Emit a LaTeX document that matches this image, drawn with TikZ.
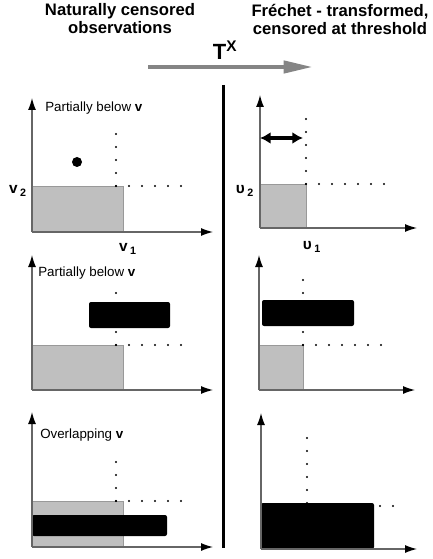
\documentclass[tikz,border=0pt]{standalone}
\usepackage{fontspec}
\setmainfont{Liberation Sans}
\usetikzlibrary{arrows.meta}

\begin{document}
\begin{tikzpicture}[x=0.75pt,y=-0.75pt,
        axis/.style={draw=black!60, line width=0.9pt, -{Latex[length=9pt,width=6pt,color=black]}},
        lowbox/.style={fill=black!25, draw=black!40, line width=0.6pt},
        obsbox/.style={fill=black, rounded corners=1.5pt},
        cut/.style={line width=1.8pt, line cap=round, dash pattern=on 0pt off 9.75pt},
        hdr/.style={font=\fontsize{12.5}{13.5}\selectfont\bfseries, align=center},
        ttl/.style={font=\fontsize{10}{12}\selectfont, anchor=west, inner sep=0pt},
        lbl/.style={font=\fontsize{11.5}{13}\selectfont\bfseries, inner sep=0pt}]
        \useasboundingbox (0,0) rectangle (432,559);

        \node(h1) at (120,19) [hdr]{Naturally censored\\observations};
        \node(h2) at (340,19) [hdr]{Fréchet - transformed,\\censored at threshold};
        \node(tx) at (225,50) [font=\fontsize{16.5}{18}\selectfont\bfseries]{T\textsuperscript{X}};
        \coordinate(ts) at (148,67);
        \coordinate(te) at (313,67);
        \draw[line width=3.2pt, black!48, -{Triangle[length=22pt,width=9pt]}] (ts) -- (te);
        \draw[line width=2.25pt] (223,85) -- (223,548);

        \draw[lowbox] (32,186) rectangle (123,232);
        \draw[cut] (116,186) -- (116,128);
        \draw[cut] (116,186) -- (193,186);
        \fill (77,162) circle (3.75pt);
        \draw[axis] (32,232) -- (32,98);
        \draw[axis] (32,232) -- (213,232);
        \node(c1) at (45,108) [ttl]{Partially below \textbf{v}};
        \node(v2) at (18,191) [lbl]{v\,\textsubscript{2}};
        \node(v1) at (128,249) [lbl]{v\,\textsubscript{1}};

        \draw[lowbox] (260,184) rectangle (306,228);
        \draw[cut] (306,184) -- (306,114);
        \draw[cut] (306,184) -- (394,184);
        \draw[axis] (260,228) -- (260,95);
        \draw[axis] (260,228) -- (417,228);
        \coordinate(w0) at (260,138);
        \coordinate(w1) at (303,138);
        \draw[line width=2.6pt, {Latex[length=8pt,width=9pt]}-{Latex[length=8pt,width=9pt]}] (w0) -- (w1);
        \node(u2) at (245,191) [lbl]{υ\,\textsubscript{2}};
        \node(u1) at (312,247) [lbl]{υ\,\textsubscript{1}};

        \draw[lowbox] (32,345) rectangle (123,390);
        \draw[cut] (116,345) -- (116,288);
        \draw[cut] (116,345) -- (193,345);
        \fill[obsbox] (89,302) rectangle (170,328);
        \draw[axis] (32,390) -- (32,255);
        \draw[axis] (32,390) -- (213,390);
        \node(c2) at (38,273) [ttl]{Partially below \textbf{v}};

        \draw[lowbox] (259,345) rectangle (303,390);
        \draw[cut] (303,345) -- (303,275);
        \draw[cut] (303,345) -- (392,345);
        \fill[obsbox] (262,300) rectangle (354,326);
        \draw[axis] (259,390) -- (259,255);
        \draw[axis] (259,390) -- (415,390);

        \draw[lowbox] (32,501) rectangle (123,547);
        \draw[cut] (116,501) -- (116,457);
        \draw[cut] (116,501) -- (193,501);
        \fill[obsbox] (32,515) rectangle (167,536);
        \draw[axis] (32,547) -- (32,412);
        \draw[axis] (32,547) -- (213,547);
        \node(c3) at (40,435) [ttl]{Overlapping \textbf{v}};

        \draw[cut] (307,503) -- (307,433);
        \draw[cut] (393,506) -- (307,506);
        \fill[obsbox] (261,503) rectangle (374,549);
        \draw[axis] (261,549) -- (261,413);
        \draw[axis] (261,549) -- (417,549);
    \end{tikzpicture}
\end{document}
